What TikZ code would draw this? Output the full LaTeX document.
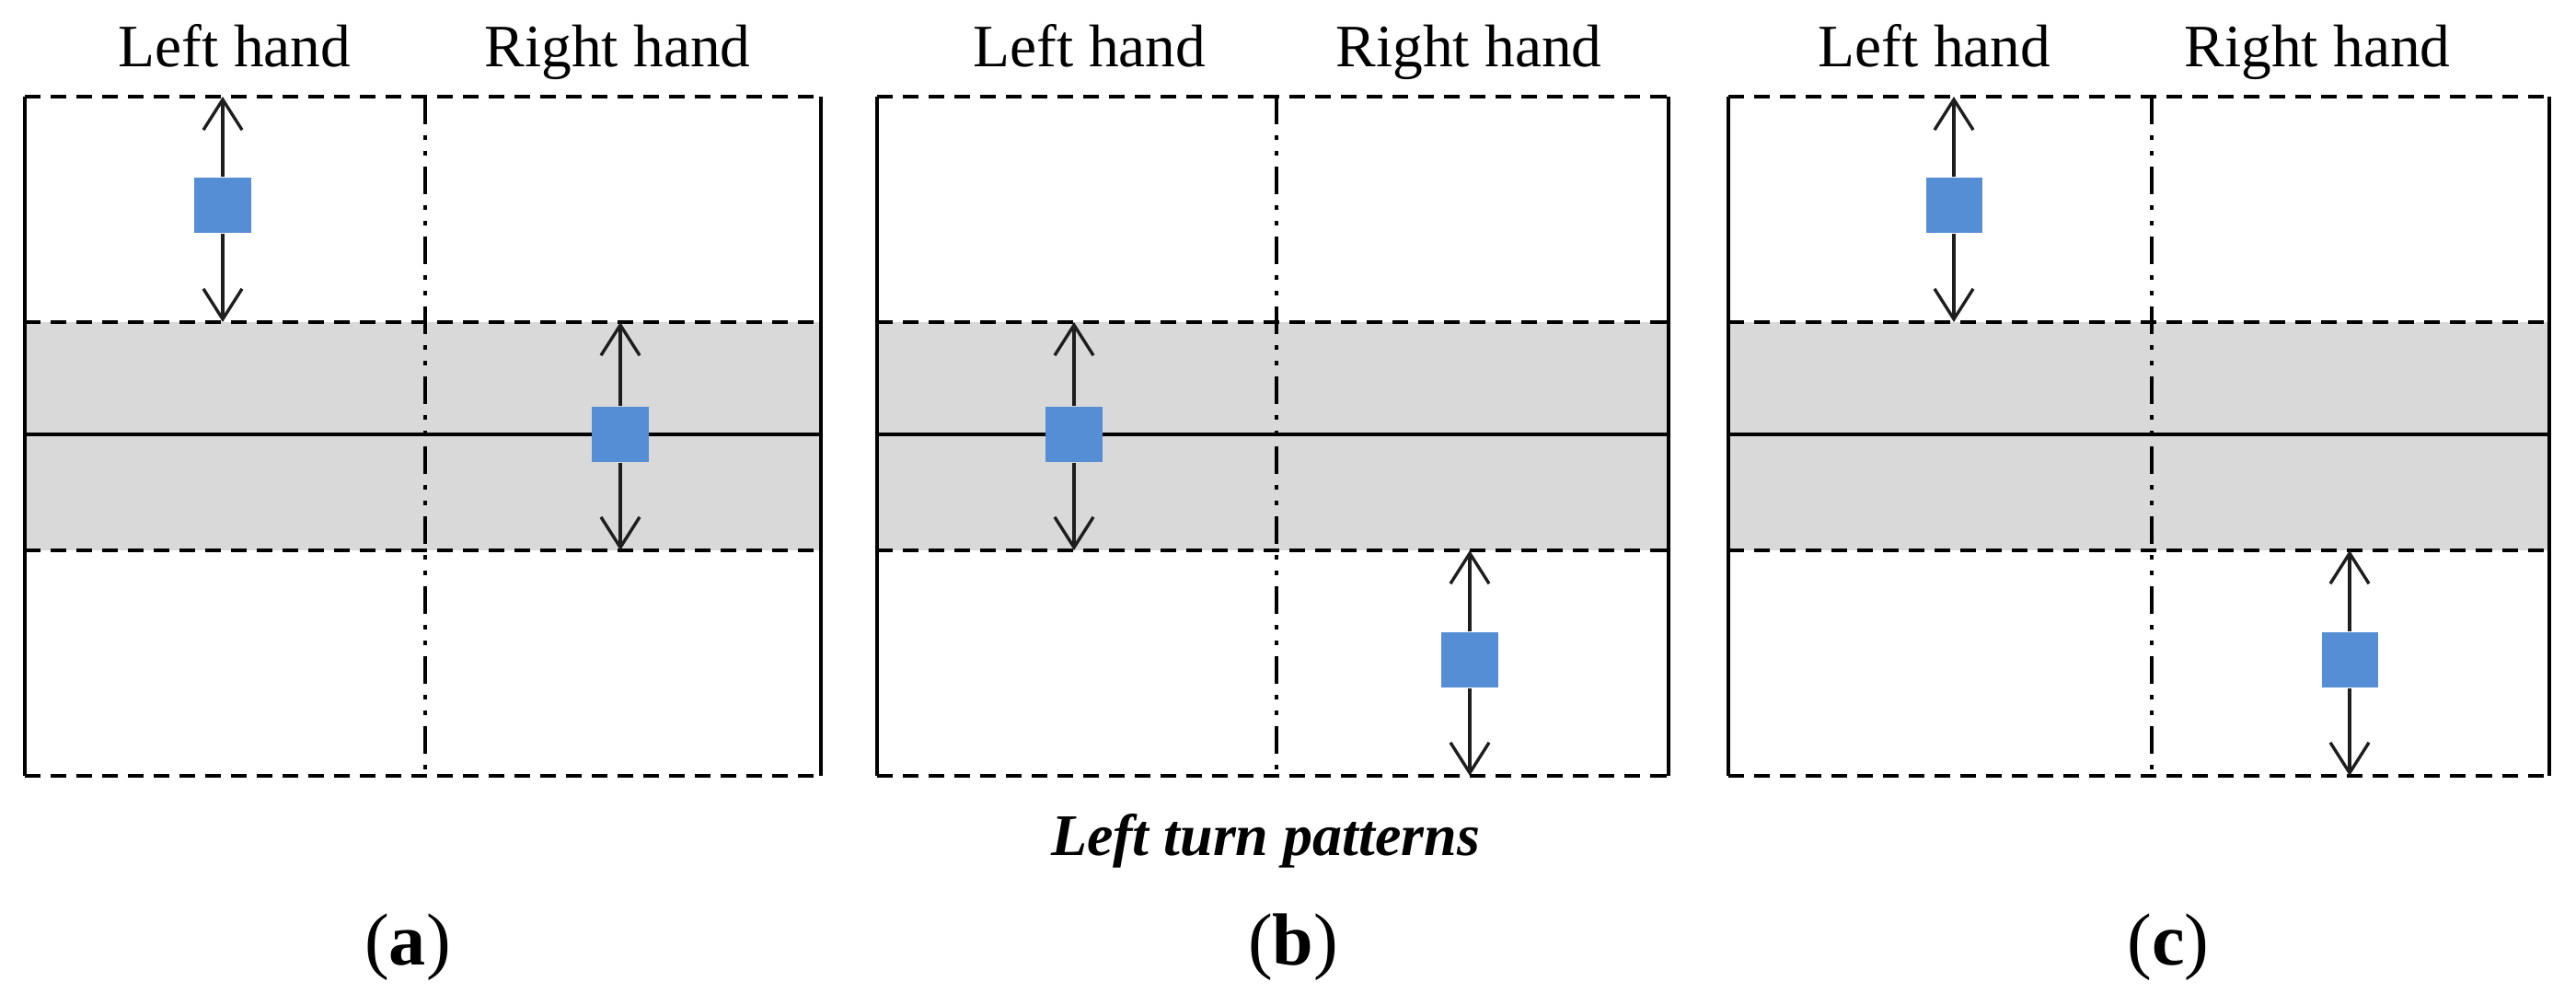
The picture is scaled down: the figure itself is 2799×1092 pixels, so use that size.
\documentclass[tikz,border=0pt]{standalone}
\usepackage{fontspec}
\setmainfont{Liberation Serif}
\usetikzlibrary{arrows.meta}

\definecolor{bandgray}{RGB}{217,217,217}
\definecolor{padblue}{RGB}{85,142,213}
\definecolor{arrowgray}{RGB}{30,30,30}

\begin{document}
\begin{tikzpicture}[x=0.01cm,y=-0.01cm,>={Straight Barb[length=3.3mm,width=4.2mm]},
    band/.style={fill=bandgray,draw=none},
    edge line/.style={line width=0.045cm},
    zone line/.style={line width=0.045cm,dash pattern=on 0.17cm off 0.11cm},
    hand line/.style={line width=0.032cm,dash pattern=on 0.30cm off 0.12cm on 0.05cm off 0.12cm on 0.05cm off 0.12cm},
    move/.style={->,draw=arrowgray,line width=0.034cm},
    pad/.style={fill=padblue,minimum width=0.61cm,minimum height=0.60cm,inner sep=0pt},
    hand/.style={anchor=base,font=\fontsize{18.6}{22}\selectfont},
    caption/.style={anchor=base,font=\fontsize{22.8}{26}\selectfont}]
    \useasboundingbox (0,0) rectangle (2799,1092);

    % (a)
    \fill[band] (27,350) rectangle (892,598);
    \draw[zone line] (27,105) -- (892,105) (27,350) -- (892,350) (27,598) -- (892,598) (27,843) -- (892,843);
    \draw[edge line] (27,105) -- (27,843) (892,105) -- (892,843) (27,472) -- (892,472);
    \draw[hand line] (462,105) -- (462,843);
    \node[hand] (aleft) at (255,73) {Left hand};
    \node[hand] (aright) at (671,73) {Right hand};
    \coordinate (altop) at (242,105);
    \coordinate (albot) at (242,350);
    \coordinate (artop) at (674,350);
    \coordinate (arbot) at (674,598);
    \node[pad] (alpad) at (242,223) {};
    \node[pad] (arpad) at (674,472) {};
    \draw[move] (alpad) -- (altop);
    \draw[move] (alpad) -- (albot);
    \draw[move] (arpad) -- (artop);
    \draw[move] (arpad) -- (arbot);

    % (b)
    \fill[band] (953,350) rectangle (1813,598);
    \draw[zone line] (953,105) -- (1813,105) (953,350) -- (1813,350) (953,598) -- (1813,598) (953,843) -- (1813,843);
    \draw[edge line] (953,105) -- (953,843) (1813,105) -- (1813,843) (953,472) -- (1813,472);
    \draw[hand line] (1387,105) -- (1387,843);
    \node[hand] (bleft) at (1184,73) {Left hand};
    \node[hand] (bright) at (1596,73) {Right hand};
    \coordinate (bltop) at (1167,350);
    \coordinate (blbot) at (1167,598);
    \coordinate (brtop) at (1597,598);
    \coordinate (brbot) at (1597,843);
    \node[pad] (blpad) at (1167,472) {};
    \node[pad] (brpad) at (1597,717) {};
    \draw[move] (blpad) -- (bltop);
    \draw[move] (blpad) -- (blbot);
    \draw[move] (brpad) -- (brtop);
    \draw[move] (brpad) -- (brbot);

    % (c)
    \fill[band] (1878,350) rectangle (2770,598);
    \draw[zone line] (1878,105) -- (2770,105) (1878,350) -- (2770,350) (1878,598) -- (2770,598) (1878,843) -- (2770,843);
    \draw[edge line] (1878,105) -- (1878,843) (2770,105) -- (2770,843) (1878,472) -- (2770,472);
    \draw[hand line] (2338,105) -- (2338,843);
    \node[hand] (cleft) at (2102,73) {Left hand};
    \node[hand] (cright) at (2518,73) {Right hand};
    \coordinate (cltop) at (2123,105);
    \coordinate (clbot) at (2123,350);
    \coordinate (crtop) at (2553,598);
    \coordinate (crbot) at (2553,843);
    \node[pad] (clpad) at (2123,223) {};
    \node[pad] (crpad) at (2553,717) {};
    \draw[move] (clpad) -- (cltop);
    \draw[move] (clpad) -- (clbot);
    \draw[move] (crpad) -- (crtop);
    \draw[move] (crpad) -- (crbot);

    % captions
    \node[hand,font=\fontsize{18.2}{22}\selectfont\bfseries\itshape] (title) at (1375,930) {Left turn patterns};
    \node[caption] (capa) at (443,1049) {(\textbf{a})};
    \node[caption] (capb) at (1405,1049) {(\textbf{b})};
    \node[caption] (capc) at (2356,1049) {(\textbf{c})};
\end{tikzpicture}
\end{document}
